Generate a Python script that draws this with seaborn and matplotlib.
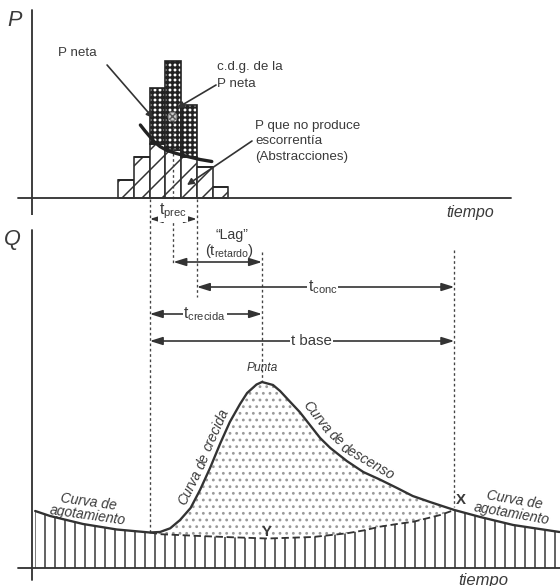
import numpy as np
import matplotlib
matplotlib.use("Agg")
import matplotlib.pyplot as plt
import seaborn as sns

# ---------------- data ----------------
# Hyetograph (hours, mm/h)
rain_t = [1, 2, 3, 4, 5, 6, 7]
rain_total = [3.6, 8.2, 22.1, 27.5, 18.6, 6.2, 2.2]
rain_loss = [3.6, 8.2, 10.9, 9.6, 8.3, 6.2, 2.2]
loss_curve_t = [1.9, 2.2, 2.5, 2.8, 3.15, 3.6, 4.2, 4.9, 5.7, 6.45]
loss_curve_p = [14.6, 13.4, 12.3, 11.2, 10.3, 9.5, 8.9, 8.3, 7.7, 7.3]
cdg_t, cdg_p = 3.92, 16.4

# Hydrograph total flow (hours, m3/s)
flow_t = [-4.8, -3.85, -1.75, 0.4, 2.5, 3.15, 3.8, 4.43, 5.1, 5.7, 6.34, 7.0,
          7.6, 8.25, 8.7, 9.3, 9.65, 10.35, 10.8, 11.45, 12.05, 12.7, 13.35, 14.0,
          15.05, 16.1, 17.15, 18.25, 19.25, 20.35, 21.9, 23.55, 25.65, 28.6]
flow_q = [5.7, 5.2, 4.4, 3.85, 3.55, 3.6, 3.97, 4.8, 6.0, 7.8, 10.0, 12.5,
          14.6, 16.4, 17.5, 18.35, 18.6, 18.3, 17.7, 16.6, 15.6, 14.3, 13.0, 12.0,
          10.7, 9.6, 8.85, 8.0, 7.2, 6.6, 5.8, 5.1, 4.3, 3.6]
# Base-flow separation line
base_t = [2.5, 3.2, 5.7, 7.8, 10.0, 12.9, 15.05, 16.1, 17.15, 18.25, 19.3, 21.0, 21.9]
base_q = [3.55, 3.38, 3.2, 3.07, 2.95, 3.1, 3.47, 3.75, 4.13, 4.4, 4.63, 5.3, 5.8]

# key times
t_start, t_cdg, t_rain_end, t_peak, t_end = 2.5, 4.0, 5.5, 9.65, 21.9

# ---------------- style ----------------
sns.set_theme(style="white")
plt.rcParams["font.family"] = ["Liberation Sans", "DejaVu Sans"]
plt.rcParams["mathtext.fontset"] = "custom"
plt.rcParams["mathtext.rm"] = "Liberation Sans"
plt.rcParams["hatch.linewidth"] = 0.9
INK = "#333333"
TXT = "#3a3a3a"

DPI = 120
fig = plt.figure(figsize=(560 / DPI, 586 / DPI), dpi=DPI)
fig.patch.set_facecolor("white")
ax_top = fig.add_axes([0, 1 - 215 / 586, 1, 215 / 586])
ax_bot = fig.add_axes([0, 0, 1, 371 / 586])
for ax in (ax_top, ax_bot):
    ax.set_axis_off()
    ax.set_xlim(-7.04, 28.63)
ax_top.set_ylim(-3.4, 39.6)
ax_bot.set_ylim(-1.8, 35.3)

# ---------------- hyetograph ----------------
net = np.array(rain_total) - np.array(rain_loss)
ax_top.bar(rain_t, rain_loss, width=1, facecolor="white", edgecolor=INK,
           hatch="//", lw=1.0, zorder=2)
bars = ax_top.bar(rain_t, net, bottom=rain_loss, width=1, facecolor="white",
                  edgecolor="#222222", hatch="++++", lw=1.0, zorder=2)
for b in bars:
    if hasattr(b, "set_hatch_linewidth"):
        b.set_hatch_linewidth(1.4)
ax_top.plot(loss_curve_t, loss_curve_p, color="#222222", lw=2.0, zorder=4,
            solid_capstyle="round")
ax_top.plot([cdg_t], [cdg_p], marker="o", ms=5, mfc="#cccccc", mec="#888888",
            mew=0.8, zorder=5)
ax_top.plot([cdg_t], [cdg_p], marker="x", ms=3.5, mec="#555555", mew=0.8, zorder=6)

# axes lines
ax_top.plot([-5, -5], [-3.4, 37.6], color=INK, lw=1.1)
ax_top.plot([-5.9, 25.5], [0, 0], color=INK, lw=1.1, zorder=3)
ax_top.text(-6.1, 35.6, "P", fontsize=13, style="italic", color=TXT,
            ha="center", va="center")
ax_top.text(22.9, -3.0, "tiempo", fontsize=9.5, style="italic", color=TXT,
            ha="center", va="center")

arrow_kw = dict(arrowstyle="-|>", color=INK, lw=1.0, mutation_scale=8,
                shrinkA=0, shrinkB=0)
ax_top.text(-2.13, 29.0, "P neta", fontsize=8, color=TXT, ha="center", va="center")
ax_top.annotate("", xy=(2.71, 16.0), xytext=(-0.22, 26.6), arrowprops=arrow_kw, zorder=6)
ax_top.text(6.76, 24.5, "c.d.g. de la\nP neta", fontsize=8, color=TXT,
            ha="left", va="center", linespacing=1.45)
ax_top.annotate("", xy=(4.24, 18.0), xytext=(6.72, 22.6), arrowprops=arrow_kw, zorder=6)
ax_top.text(9.2, 11.3, "P que no produce\nescorrentía\n(Abstracciones)", fontsize=8,
            color=TXT, ha="left", va="center", linespacing=1.35)
ax_top.annotate("", xy=(4.87, 2.6), xytext=(9.01, 11.4), arrowprops=arrow_kw, zorder=6)

# ---------------- hydrograph ----------------
ft, fq = np.array(flow_t), np.array(flow_q)
bt, bq = np.array(base_t), np.array(base_q)
left = ft <= t_start
right = ft >= t_end
mid = (ft >= t_start) & (ft <= t_end)
poly_t = np.concatenate([ft[left], bt, ft[right]])
poly_q = np.concatenate([fq[left], bq, fq[right]])
ax_bot.fill_between(poly_t, 0, poly_q, facecolor="none", edgecolor=INK,
                    hatch="||", lw=0, zorder=1)
ax_bot.fill(np.concatenate([ft[mid], bt[::-1]]), np.concatenate([fq[mid], bq[::-1]]),
            facecolor="none", edgecolor="#9a9a9a", hatch="...", lw=0, zorder=1)
ax_bot.plot(bt, bq, color=INK, lw=1.1, ls=(0, (4, 2)), zorder=3)
sns.lineplot(x=ft, y=fq, ax=ax_bot, color=INK, lw=1.4, sort=False, zorder=4)
ax_bot.set_axis_off()

ax_bot.plot([-5, -5], [-1.2, 33.8], color=INK, lw=1.1)
ax_bot.plot([-5.9, 28.63], [0, 0], color=INK, lw=1.1, zorder=3)
ax_bot.text(-6.27, 32.8, "Q", fontsize=13, style="italic", color=TXT,
            ha="center", va="center")
ax_bot.text(23.72, -1.2, "tiempo", fontsize=10, style="italic", color=TXT,
            ha="center", va="center")

# dotted guide lines
dot = dict(color="#444444", lw=0.8, ls=(0, (2, 2)), clip_on=False, zorder=2)
ax_bot.plot([t_start, t_start], [36.9, 3.55], **dot)
ax_top.plot([t_cdg, t_cdg], [cdg_p, -13.4], **dot)
ax_bot.plot([t_rain_end, t_rain_end], [36.9, 27.1], **dot)
ax_bot.plot([t_peak, t_peak], [31.6, 18.7], **dot)
ax_bot.plot([t_end, t_end], [31.8, 6.1], **dot)

# dimension arrows
dim_kw = dict(arrowstyle="<|-|>,head_length=0.7,head_width=0.22", color=INK,
              lw=1.0, mutation_scale=9, shrinkA=0, shrinkB=0)
def dim(t0, t1, y):
    ax_bot.annotate("", xy=(t1, y), xytext=(t0, y), arrowprops=dim_kw,
                    annotation_clip=False, zorder=3)

box = dict(facecolor="white", edgecolor="none", pad=0.6)
dim(t_start, t_rain_end, 34.9)
ax_bot.text(t_cdg, 35.7, r"$\mathregular{t_{prec}}$", fontsize=9.5, color=TXT,
            ha="center", va="center", bbox=box, zorder=4)
dim(t_cdg, t_peak, 30.6)
ax_bot.text(7.74, 33.3, "“Lag”", fontsize=8.5, color=TXT, ha="center", va="center")
ax_bot.text(7.6, 31.7, r"$\mathregular{(t_{retardo})}$", fontsize=9, color=TXT,
            ha="center", va="center")
dim(t_rain_end, t_end, 28.1)
ax_bot.text(13.5, 28.1, r"$\mathregular{t_{conc}}$", fontsize=9.5, color=TXT,
            ha="center", va="center", bbox=box, zorder=4)
dim(t_start, t_peak, 25.4)
ax_bot.text(6.0, 25.4, r"$\mathregular{t_{crecida}}$", fontsize=9.5, color=TXT,
            ha="center", va="center", bbox=box, zorder=4)
dim(t_start, t_end, 22.7)
ax_bot.text(12.8, 22.7, "t base", fontsize=9, color=TXT,
            ha="center", va="center", bbox=box, zorder=4)


# ---- text that follows the hydrograph curve ----
def text_along(ax, xs, ys, words, start_x_px, normal_px, **kw):
    renderer = fig.canvas.get_renderer()
    pts = ax.transData.transform(np.column_stack([xs, ys]))
    seg = np.hypot(np.diff(pts[:, 0]), np.diff(pts[:, 1]))
    s = np.concatenate([[0], np.cumsum(seg)])
    pos = np.interp(start_x_px, pts[:, 0], s)
    tmp = ax.text(0, 0, "a a", **kw)
    w2 = tmp.get_window_extent(renderer).width
    tmp.set_text("aa")
    space = w2 - tmp.get_window_extent(renderer).width
    tmp.remove()
    for w in words:
        tmp = ax.text(0, 0, w, **kw)
        wid = tmp.get_window_extent(renderer).width
        tmp.remove()
        c = pos + wid / 2
        x = np.interp(c, s, pts[:, 0])
        y = np.interp(c, s, pts[:, 1])
        xa, ya = np.interp(c - 8, s, pts[:, 0]), np.interp(c - 8, s, pts[:, 1])
        xb, yb = np.interp(c + 8, s, pts[:, 0]), np.interp(c + 8, s, pts[:, 1])
        dx, dy = xb - xa, yb - ya
        n = np.hypot(dx, dy)
        nx, ny = -dy / n, dx / n
        px, py = x + nx * normal_px, y + ny * normal_px
        dxy = ax.transData.inverted().transform((px, py))
        ax.text(dxy[0], dxy[1], w, rotation=np.degrees(np.arctan2(dy, dx)),
                rotation_mode="anchor", ha="center", va="center", **kw)
        pos += wid + space


lab = dict(fontsize=8.3, style="italic", color=TXT)
text_along(ax_bot, ft, fq, ["Curva", "de", "crecida"], 190, 9.5, **lab)
text_along(ax_bot, ft, fq, ["Curva", "de", "descenso"], 297, 10.5, **lab)

ax_bot.text(-1.43, 5.9, "Curva de\nagotamiento", rotation=-8, linespacing=0.95,
            ha="center", va="center", **lab)
ax_bot.text(25.64, 6.1, "Curva de\nagotamiento", rotation=-10, linespacing=0.95,
            ha="center", va="center", **lab)
ax_bot.text(9.65, 20.0, "Punta", ha="center", va="center",
            fontsize=7.2, style="italic", color=TXT)
ax_bot.text(22.33, 6.8, "X", fontsize=9, color=TXT, ha="center", va="center",
            fontweight="bold")
ax_bot.text(9.97, 3.6, "Y", fontsize=9, color=TXT, ha="center", va="center",
            fontweight="bold")

fig.savefig("out.png", dpi=DPI, facecolor="white")
